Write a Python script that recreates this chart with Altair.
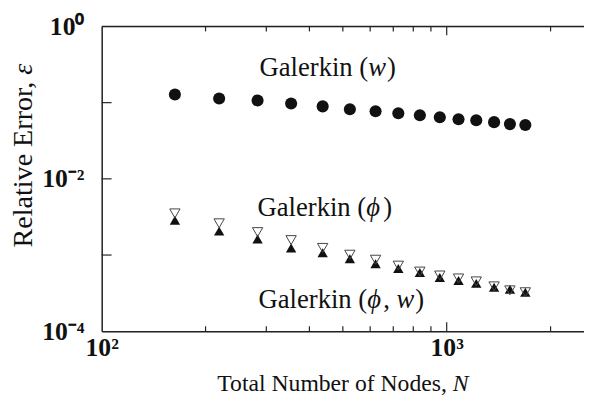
import altair as alt
import pandas as pd

# ---- data ----
nodes = [163, 219, 283, 354, 437, 524, 622, 724, 836, 955, 1082, 1218, 1372, 1525, 1690]
err_w = [0.128, 0.1135, 0.107, 0.0977, 0.0894, 0.0818, 0.0771, 0.0726, 0.0684,
         0.0644, 0.0607, 0.0589, 0.0555, 0.0523, 0.0508]
err_phi = [3.52e-3, 2.61e-3, 2.00e-3, 1.57e-3, 1.24e-3, 1.01e-3, 8.68e-4, 7.26e-4,
           6.07e-4, 5.39e-4, 4.93e-4, 4.51e-4, 3.88e-4, 3.44e-4, 3.25e-4]
err_phiw = [2.86e-3, 2.06e-3, 1.62e-3, 1.24e-3, 1.07e-3, 8.94e-4, 7.71e-4, 6.64e-4,
            5.89e-4, 5.08e-4, 4.64e-4, 4.25e-4, 3.77e-4, 3.55e-4, 3.25e-4]

x_label_values = [100, 1000]
y_label_values = [1, 0.01, 0.0001]
x_minor_ticks = [200, 300, 400, 500, 600, 700, 800, 900, 2000]
x_major_ticks = [1000]
y_ticks = [0.1, 0.01, 0.001]

ann_w = ["Galerkin (", "w", ")"]
ann_phi = ["Galerkin (", "\u03d5", ")"]
ann_phiw = ["Galerkin (", "\u03d5", ",", "w", ")"]
x_title = ["Total Number of Nodes,", "N"]
y_title = ["Relative Error,", "\u03b5"]

W, H = 489, 309
FONT = "Liberation Serif"
INK = "#111111"

xscale = alt.Scale(type="log", domain=[100, 2500], nice=False)
yscale = alt.Scale(type="log", domain=[1e-4, 1], nice=False)

df = pd.DataFrame({"N": nodes, "w": err_w, "phi": err_phi, "phiw": err_phiw})

circles = alt.Chart(df).mark_point(shape="circle", filled=True, size=150, color=INK, opacity=1).encode(
    x=alt.X("N:Q", scale=xscale, axis=alt.Axis(
        values=x_label_values, labelExpr="datum.value < 500 ? '10\u00b2' : '10\u00b3'",
        ticks=False, grid=False, domainColor="#222", domainWidth=1.5, labelFlush=False,
        labelFont=FONT, labelFontWeight="bold", labelFontSize=26, labelColor=INK,
        labelPadding=4, title=None)),
    y=alt.Y("w:Q", scale=yscale, axis=alt.Axis(
        values=y_label_values,
        labelExpr="datum.value > 0.5 ? '10\u2070' : (datum.value > 0.005 ? '10\u207b\u00b2' : '10\u207b\u2074')",
        ticks=False, grid=False, domainColor="#222", domainWidth=1.5, labelFlush=False,
        labelFont=FONT, labelFontWeight="bold", labelFontSize=26, labelColor=INK,
        labelPadding=18, title=None)),
)

up = alt.Chart(df).mark_point(shape="triangle-up", filled=True, size=110, color=INK, opacity=1).encode(
    x=alt.X("N:Q", scale=xscale), y=alt.Y("phiw:Q", scale=yscale))
down = alt.Chart(df).mark_point(shape="triangle-down", filled=False, size=110, color="#444",
                                strokeWidth=1, opacity=1).encode(
    x=alt.X("N:Q", scale=xscale), y=alt.Y("phi:Q", scale=yscale))

# inward ticks and top border
def xticks(vals, y0, y1):
    return alt.Chart(pd.DataFrame({"t": vals})).mark_rule(color="#222", strokeWidth=1.2).encode(
        x=alt.X("t:Q", scale=xscale), y=alt.value(y0), y2=alt.value(y1))

ticks_layers = [
    xticks(x_minor_ticks, H, H - 5), xticks(x_major_ticks, H, H - 9),
    xticks(x_minor_ticks, 0, 5), xticks(x_major_ticks, 0, 9),
    alt.Chart(pd.DataFrame({"t": y_ticks})).mark_rule(color="#222", strokeWidth=1.2).encode(
        y=alt.Y("t:Q", scale=yscale), x=alt.value(0), x2=alt.value(10)),
    alt.Chart(pd.DataFrame({"t": [0]})).mark_rule(color="#222", strokeWidth=1.5).encode(
        x=alt.value(0), x2=alt.value(W), y=alt.value(0)),
]

def text_piece(s, x, y, italic=False, size=25, align="left", angle=0):
    kw = dict(font=FONT, fontSize=size, color=INK, align=align, baseline="alphabetic")
    if italic:
        kw["fontStyle"] = "italic"
    if angle:
        kw["angle"] = angle
    return alt.Chart(pd.DataFrame({"s": [s]})).mark_text(**kw).encode(
        text="s:N", x=alt.value(x), y=alt.value(y))

def annotation(pieces, italics, widths, x, y, size=25):
    out = []
    cx = x
    for s, it, w in zip(pieces, italics, widths):
        out.append(text_piece(s, cx, y, italic=it, size=size))
        cx += w
    return out

fs = 27
wG = 4.082 * fs
wI_w = 0.667 * fs
wI_phi = 0.6 * fs
wComma = 0.5 * fs
texts = []
texts += annotation(ann_w, [False, True, False], [wG, wI_w + 1, 0], 160, 50, fs)
texts += annotation(ann_phi, [False, True, False], [wG, wI_phi + 1, 0], 158, 192, fs)
texts += annotation(ann_phiw, [False, True, False, True, False], [wG, wI_phi, wComma, wI_w + 1, 0], 159, 285, fs)

texts.append(text_piece(x_title[0], 350, 370, size=24, align="right"))
texts.append(text_piece(x_title[1], 356, 370, italic=True, size=24, align="left"))
texts.append(text_piece(y_title[0], -71, 56, size=28.5, align="right", angle=270))
texts.append(text_piece(y_title[1], -71, 49, italic=True, size=28.5, align="left", angle=270))

chart = alt.layer(circles, up, down, *ticks_layers, *texts).properties(
    width=W, height=H,
    autosize=alt.AutoSizeParams(type="none"),
    padding={"left": 95, "top": 16, "right": 0, "bottom": 67},
).configure_view(stroke=None).configure(background="white")

chart.save("out.html", embed_options={"renderer": "svg", "actions": False})
